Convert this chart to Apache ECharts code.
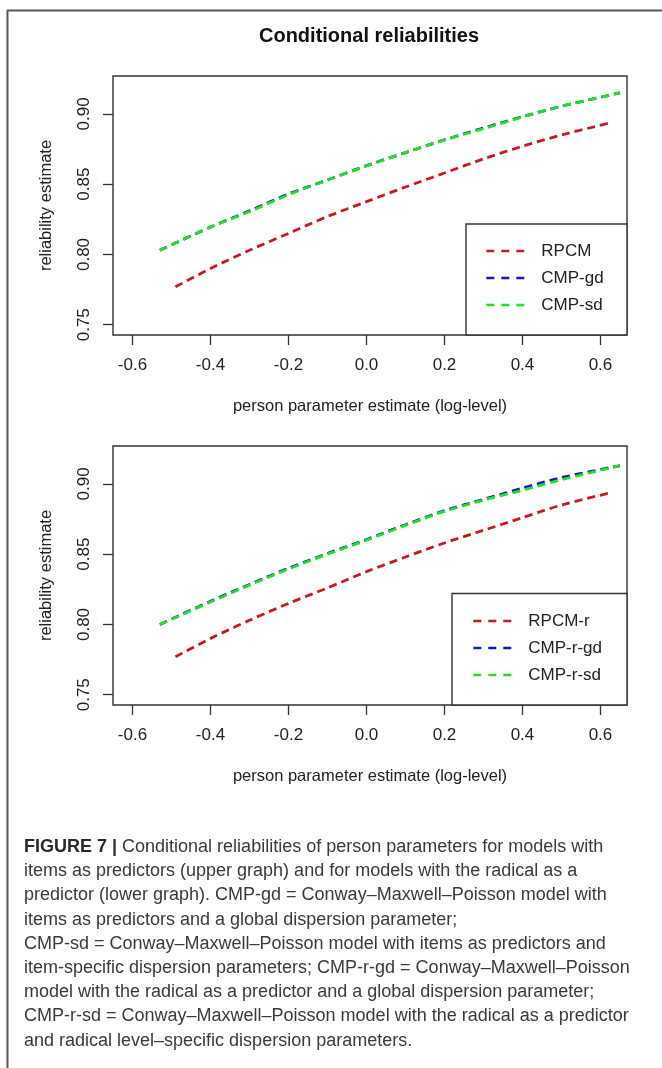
<!DOCTYPE html>
<html>
<head>
<meta charset="utf-8">
<title>Conditional reliabilities</title>
<script src="https://cdn.jsdelivr.net/npm/echarts@6/dist/echarts.min.js"></script>
<style>
  html, body { margin: 0; padding: 0; background: #fff; }
  #chart { width: 662px; height: 1068px; }
</style>
</head>
<body>
<div id="chart"></div>
<script>
// x positions (person parameter, log-level)
const xRpcm = [-0.49, -0.4, -0.3, -0.2, -0.1, 0, 0.1, 0.2, 0.3, 0.4, 0.5, 0.63];
const xCmp = [-0.53, -0.4, -0.3, -0.2, -0.1, 0, 0.1, 0.2, 0.3, 0.4, 0.5, 0.65];

// upper graph: items as predictors
const topRpcm = [0.777, 0.790, 0.803, 0.815, 0.827, 0.8376, 0.848, 0.858, 0.868, 0.877, 0.885, 0.894];
const topCmpGd = [0.803, 0.8195, 0.831, 0.843, 0.853, 0.8632, 0.8725, 0.8815, 0.890, 0.898, 0.9055, 0.915];
const topCmpSd = [0.803, 0.8195, 0.8305, 0.8425, 0.853, 0.863, 0.8725, 0.8815, 0.8895, 0.8978, 0.9055, 0.915];

// lower graph: radical as predictor
const botRpcm = [0.777, 0.790, 0.803, 0.815, 0.826, 0.8376, 0.848, 0.858, 0.867, 0.876, 0.885, 0.894];
const botCmpGd = [0.800, 0.8165, 0.8285, 0.840, 0.8505, 0.8605, 0.871, 0.881, 0.889, 0.897, 0.9045, 0.913];
const botCmpSd = [0.800, 0.816, 0.828, 0.8395, 0.850, 0.860, 0.8705, 0.8805, 0.8885, 0.8955, 0.903, 0.913];

const xTicks = [-0.6, -0.4, -0.2, 0.0, 0.2, 0.4, 0.6];
const yTicks = [0.75, 0.80, 0.85, 0.90];

const topNames = ['RPCM', 'CMP-gd', 'CMP-sd'];
const botNames = ['RPCM-r', 'CMP-r-gd', 'CMP-r-sd'];
const colors = ['#c8191e', '#1414c8', '#22e022'];

const captionLines = [
  '{b|FIGURE 7 |} Conditional reliabilities of person parameters for models with',
  'items as predictors (upper graph) and for models with the radical as a',
  'predictor (lower graph). CMP-gd = Conway–Maxwell–Poisson model with',
  'items as predictors and a global dispersion parameter;',
  'CMP-sd = Conway–Maxwell–Poisson model with items as predictors and',
  'item-specific dispersion parameters; CMP-r-gd = Conway–Maxwell–Poisson',
  'model with the radical as a predictor and a global dispersion parameter;',
  'CMP-r-sd = Conway–Maxwell–Poisson model with the radical as a predictor',
  'and radical level–specific dispersion parameters.'
];

const FONT = 'Liberation Sans, Arial, Helvetica, sans-serif';
const gridTops = [76, 446];

const zip = (xs, ys) => xs.map((x, i) => [x, ys[i]]);

const makeX = (idx) => ({
  gridIndex: idx,
  type: 'value',
  position: 'bottom',
  min: -0.65,
  max: 0.668,
  axisLine: { show: false, onZero: false },
  splitLine: { show: false },
  axisTick: { show: true, length: 10, customValues: xTicks, lineStyle: { color: '#333', width: 1.3 } },
  axisLabel: {
    customValues: xTicks,
    formatter: v => v.toFixed(1),
    margin: 22,
    fontSize: 17,
    fontFamily: FONT,
    color: '#222'
  },
  name: 'person parameter estimate (log-level)',
  nameLocation: 'middle',
  nameGap: 63,
  nameTextStyle: { fontSize: 16.5, fontFamily: FONT, color: '#222' }
});

const makeY = (idx) => ({
  gridIndex: idx,
  type: 'value',
  position: 'left',
  min: 0.7427,
  max: 0.927,
  axisLine: { show: false, onZero: false },
  splitLine: { show: false },
  axisTick: { show: true, length: 10, customValues: yTicks, lineStyle: { color: '#333', width: 1.3 } },
  axisLabel: {
    customValues: yTicks,
    formatter: v => v.toFixed(2),
    rotate: 90,
    margin: 20,
    fontSize: 17,
    fontFamily: FONT,
    color: '#222'
  },
  name: 'reliability estimate',
  nameLocation: 'middle',
  nameGap: 58,
  nameTextStyle: { fontSize: 16.5, fontFamily: FONT, color: '#222' }
});

const makeSeries = (name, idx, xs, ys, color) => ({
  name: name,
  type: 'line',
  xAxisIndex: idx,
  yAxisIndex: idx,
  data: zip(xs, ys),
  smooth: 0.3,
  showSymbol: false,
  symbol: 'none',
  silent: true,
  color: color,
  lineStyle: { color: color, width: 2.8, type: [8, 5] }
});

const makeLegend = (names, left, top) => ({
  data: names,
  orient: 'vertical',
  left: left,
  top: top,
  padding: 0,
  itemWidth: 38,
  itemHeight: 18,
  itemGap: 10,
  selectedMode: false,
  z: 6,
  itemStyle: { opacity: 0, borderWidth: 0 },
  lineStyle: { width: 2.6, type: [8, 7] },
  textStyle: { fontSize: 17, fontFamily: FONT, color: '#222', padding: [0, 0, 0, 12] }
});

const chart = echarts.init(document.getElementById('chart'), null, { renderer: 'canvas' });

const options = {
  backgroundColor: '#fff',
  animation: false,
  grid: gridTops.map(t => ({
    left: 113,
    top: t,
    width: 514,
    height: 259,
    show: true,
    borderColor: '#333',
    borderWidth: 1.4,
    backgroundColor: 'transparent'
  })),
  xAxis: [makeX(0), makeX(1)],
  yAxis: [makeY(0), makeY(1)],
  legend: [makeLegend(topNames, 485, 242.5), makeLegend(botNames, 472, 612.5)],
  series: [
    makeSeries(topNames[0], 0, xRpcm, topRpcm, colors[0]),
    makeSeries(topNames[1], 0, xCmp, topCmpGd, colors[1]),
    makeSeries(topNames[2], 0, xCmp, topCmpSd, colors[2]),
    makeSeries(botNames[0], 1, xRpcm, botRpcm, colors[0]),
    makeSeries(botNames[1], 1, xCmp, botCmpGd, colors[1]),
    makeSeries(botNames[2], 1, xCmp, botCmpSd, colors[2])
  ],
  graphic: [
    // frame around the figure
    { type: 'line', z: 10, shape: { x1: 7, y1: 10.5, x2: 662, y2: 10.5 }, style: { stroke: '#555', lineWidth: 2 } },
    { type: 'line', z: 10, shape: { x1: 7.5, y1: 10, x2: 7.5, y2: 1068 }, style: { stroke: '#555', lineWidth: 2 } },
    // title
    {
      type: 'text', z: 10, x: 369, y: 36,
      style: { text: 'Conditional reliabilities', fontSize: 20, fontWeight: 'bold', fontFamily: FONT, fill: '#111', align: 'center', verticalAlign: 'middle' }
    },
    // legend boxes
    { type: 'rect', z: 5, shape: { x: 466, y: 224, width: 161, height: 111 }, style: { fill: '#fff', stroke: '#333', lineWidth: 1.4 } },
    { type: 'rect', z: 5, shape: { x: 452, y: 593.5, width: 175, height: 111.5 }, style: { fill: '#fff', stroke: '#333', lineWidth: 1.4 } },
    // caption
    {
      type: 'text', z: 10, x: 24, y: 835,
      style: {
        text: captionLines.join('\n'),
        fontSize: 18,
        lineHeight: 24.2,
        fontFamily: FONT,
        fill: '#3a3a3a',
        rich: {
          b: { fontSize: 18, lineHeight: 24.2, fontWeight: 'bold', fontFamily: FONT, fill: '#2a2a2a' }
        }
      }
    }
  ]
};

chart.setOption(options);
</script>
</body>
</html>
